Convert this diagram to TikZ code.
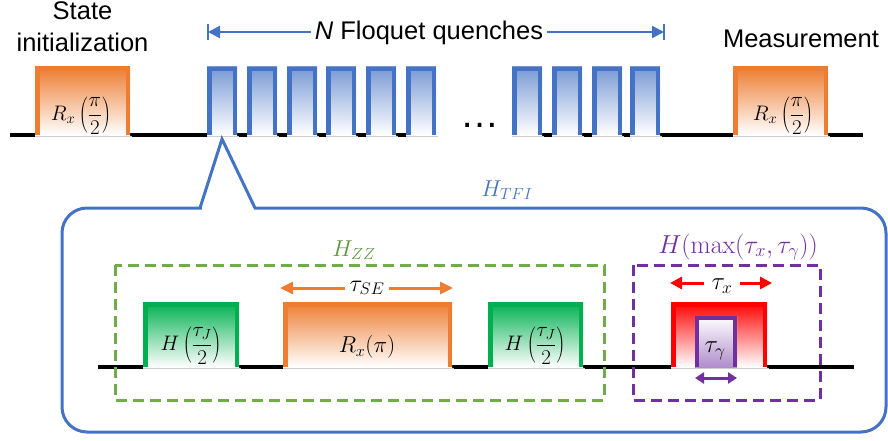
\RequirePackage{fix-cm}
\documentclass[tikz,border=0pt]{standalone}
\usepackage[no-math]{fontspec}
\setmainfont{Liberation Sans}
\usetikzlibrary{arrows.meta}
\definecolor{cblue}{HTML}{4472C4}
\definecolor{corange}{HTML}{ED7D31}
\definecolor{cgreen}{HTML}{00B050}
\definecolor{cred}{HTML}{FF0000}
\definecolor{cpurple}{HTML}{7030A0}
\definecolor{cdgreen}{HTML}{70AD47}
% #1 left outer x, #2 right outer x, #3 top outer y, #4 bottom y, #5 line colour, #6 shading
\newcommand\pulsebox[6]{%
  \shade[#6] (#1,#3) rectangle (#2,#4);
  \draw[#5, line width=4.5, line cap=butt, line join=miter]
    (#1+2.25,#4) -- (#1+2.25,#3+2.25) -- (#2-2.25,#3+2.25) -- (#2-2.25,#4);
  \draw[black!20, line width=0.7] (#1,#4+1.5) -- (#2+2,#4+1.5);
}
\begin{document}
\begin{tikzpicture}[x=1pt,y=-1pt,
  sanslab/.style={font=\fontsize{25.5}{30}\selectfont, inner sep=0},
  mlab/.style={font=\fontsize{#1}{#1}\selectfont, inner sep=0},
  mlab/.default=24,
  flab/.style={font=\fontsize{21}{25}\selectfont, inner sep=0},
  blk/.style={black, line width=4.5, line cap=butt},
  bshade/.style={top color=cblue!72, bottom color=white},
  oshade/.style={top color=corange, middle color=corange!45, bottom color=white},
  gshade/.style={top color=cgreen, middle color=cgreen!35, bottom color=white},
  rshade/.style={top color=cred, middle color=cred!35, bottom color=white},
  pshade/.style={top color=white, bottom color=cpurple!55},
  dashbox/.style={line width=3, dash pattern=on 11pt off 6pt}]
\useasboundingbox (0,0) rectangle (888,441);

% ---------------- top sequence ----------------
\foreach \a/\b in {10/37,128/209,235/249,275/289,314/328,354/368,394/408,540/554,580/594,620/632,658/735,826/863}
  {\draw[blk] (\a,135) -- (\b,135);}
\pulsebox{35}{130}{67}{135}{corange}{oshade}
\pulsebox{733}{828}{67}{135}{corange}{oshade}
\foreach \a in {207,247,287,326,366,406,512,552,592,630}
  {\pulsebox{\a}{\a+30}{67}{135}{cblue}{bshade}}

\node[flab] (rx1) at (81,116) {$\displaystyle R_x\left(\frac{\pi}{2}\right)$};
\node[flab] (rx2) at (783,116) {$\displaystyle R_x\left(\frac{\pi}{2}\right)$};
\node[font=\fontsize{39}{40}\selectfont, inner sep=0, anchor=base] (dots) at (480,127.5) {…};

\node[sanslab, anchor=base] (st1) at (82.5,20) {State};
\node[sanslab, anchor=base] (st2) at (82.5,52) {initialization};
\node[sanslab, anchor=base] (meas) at (801,48) {Measurement};

\node[sanslab, anchor=base, inner xsep=4] (nfq) at (429,40) {\textit{N} Floquet quenches};
\coordinate (nL) at (208,32);
\coordinate (nR) at (664,32);
\draw[cblue, line width=2.5] (208,24) -- (208,40);
\draw[cblue, line width=2.5] (664,24) -- (664,40);
\draw[cblue, line width=2.5, -{Triangle[length=12,width=12]}] (nfq.west |- nL) -- (nL);
\draw[cblue, line width=2.5, -{Triangle[length=12,width=12]}] (nfq.east |- nR) -- (nR);

% ---------------- callout ----------------
\draw[cblue, line width=3, rounded corners=25] (228,208) -- (886,208) -- (886,432) -- (62,432) -- (62,208) -- cycle;
\fill[white] (201.5,205) rectangle (253.5,211);
\draw[cblue, line width=3, line join=miter] (200,208) -- (222,139) -- (255,208);
\node[mlab=23, text=cblue] (htfi) at (507,190) {$H_{TFI}$};

% ---------------- lower sequence ----------------
\foreach \a/\b in {98/146,237/286,450/491,581/674,765/854}
  {\draw[blk] (\a,367) -- (\b,367);}
\pulsebox{143}{239}{302}{367}{cgreen}{gshade}
\pulsebox{283}{452}{302}{367}{corange}{oshade}
\pulsebox{488}{583}{302}{367}{cgreen}{gshade}
\pulsebox{671}{767}{302}{367}{cred}{rshade}
% inner tau_gamma box
\shade[pshade] (695,316) rectangle (737,367);
\draw[cpurple, line width=4, line join=miter] (697,367) -- (697,318) -- (735,318) -- (735,367);

\draw[cdgreen, dashbox] (115,265) rectangle (604,400);
\draw[cpurple, dashbox] (633,265) rectangle (820,400);

\node[flab] (hj1) at (191,346) {$\displaystyle H\left(\frac{\tau_J}{2}\right)$};
\node[flab] (hj2) at (535,346) {$\displaystyle H\left(\frac{\tau_J}{2}\right)$};
\node[mlab=23] (rxp) at (367,347) {$R_x(\pi)$};
\node[mlab=23, text=cdgreen!85!black] (hzz) at (354,250) {$H_{ZZ}$};
\node[mlab=26, text=cpurple] (hmax) at (738,247) {$H(\max(\tau_x,\tau_\gamma))$};

\node[mlab=24, inner xsep=4] (tse) at (367,288) {$\tau_{SE}$};
\coordinate (seL) at (280,288);
\coordinate (seR) at (453,288);
\draw[corange, line width=3, -{Triangle[length=13,width=12]}] (tse.west |- seL) -- (seL);
\draw[corange, line width=3, -{Triangle[length=13,width=12]}] (tse.east |- seR) -- (seR);

\node[mlab=25, inner xsep=7] (tx) at (722,286) {$\tau_x$};
\coordinate (xL) at (670,283);
\coordinate (xR) at (772,283);
\draw[cred, line width=3, -{Triangle[length=12,width=12]}] (tx.west |- xL) -- (xL);
\draw[cred, line width=3, -{Triangle[length=12,width=12]}] (tx.east |- xR) -- (xR);

\node[mlab=25] (tg) at (715,351) {$\tau_\gamma$};
\coordinate (gL) at (695,378);
\coordinate (gR) at (737,378);
\draw[cpurple, line width=3, {Triangle[length=9,width=11]}-{Triangle[length=9,width=11]}] (gL) -- (gR);
\end{tikzpicture}
\end{document}
